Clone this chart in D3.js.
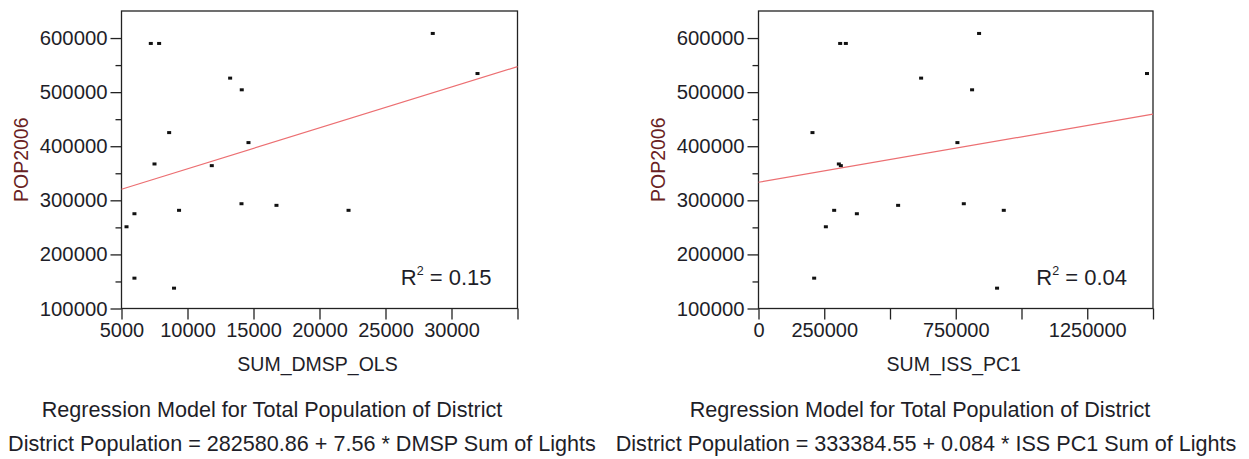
<!DOCTYPE html>
<html>
<head>
<meta charset="utf-8">
<script src="https://cdn.jsdelivr.net/npm/d3@7"></script>
<style>
  html, body { margin: 0; padding: 0; background: #fff; }
  svg text { font-family: "Liberation Sans", Arial, sans-serif; }
</style>
</head>
<body>
<svg id="chart" width="1249" height="459"></svg>
<script>
// ---- data ----
const pop2006   = [590000, 590000, 608500, 534400, 525900, 504300, 425200, 406700, 367200, 364100, 293700, 290700, 281500, 281500, 275200, 251100, 156100, 137600];
const sumDMSP   = [7220,   7850,   28580,  31970,  13230,  14110,  8610,   14620,  7500,   11840,  14090,  16740,  9360,   22200,  5980,   5380,   5980,   8980];
const sumISS    = [310500, 332100, 838700, 1477200, 618300, 812100, 205200, 756300, 305500, 313100, 780600, 530900, 287700, 932600, 374000, 256100, 211700, 907100];

const yTickValues = [100000, 200000, 300000, 400000, 500000, 600000];
const yMinorTicks = [150000, 250000, 350000, 450000, 550000];
const yTickLabels = ["100000", "200000", "300000", "400000", "500000", "600000"];

const xTicksDMSP = [5000, 10000, 15000, 20000, 25000, 30000, 35000];
const xLabelsDMSP = ["5000", "10000", "15000", "20000", "25000", "30000", ""];
const xTicksISS = [0, 250000, 500000, 750000, 1000000, 1250000, 1500000];
const xLabelsISS = ["0", "250000", "", "750000", "", "1250000", ""];

const intercepts = [282580.86, 333384.55];
const slopes = [7.56, 0.084];
const r2Labels = ["0.15", "0.04"];
const xTitles = ["SUM_DMSP_OLS", "SUM_ISS_PC1"];
const yTitle = "POP2006";
const modelTitle = "Regression Model for Total Population of District";
const equations = [
  "District Population = 282580.86 + 7.56 * DMSP Sum of Lights",
  "District Population = 333384.55 + 0.084 * ISS PC1 Sum of Lights"
];

// ---- layout ----
const svg = d3.select("#chart");
const panels = [
  { x0: 121.5, x1: 517.5, xDomain: [5000, 35000], xs: sumDMSP, ticks: xTicksDMSP, labels: xLabelsDMSP, yTitleX: 21, titleCx: 272, eqCx: 302 },
  { x0: 758.5, x1: 1153, xDomain: [0, 1500000], xs: sumISS, ticks: xTicksISS, labels: xLabelsISS, yTitleX: 658, titleCx: 920, eqCx: 926 }
];
const yTop = 11, yBot = 308.5;
const y = d3.scaleLinear().domain([100000, 650000]).range([yBot, yTop]);

const textColor = "#1e1e28";

panels.forEach((p, i) => {
  const x = d3.scaleLinear().domain(p.xDomain).range([p.x0, p.x1]);
  const g = svg.append("g");

  // minor y ticks
  const yMinor = d3.axisLeft(y).tickValues(yMinorTicks).tickSize(6).tickFormat("");
  g.append("g").attr("transform", `translate(${p.x0},0)`).call(yMinor)
    .call(a => a.select(".domain").remove());
  // major y ticks
  const yMajor = d3.axisLeft(y).tickValues(yTickValues).tickSize(11).tickPadding(3)
    .tickFormat((d, k) => yTickLabels[k]);
  g.append("g").attr("transform", `translate(${p.x0},0)`).call(yMajor)
    .call(a => a.select(".domain").remove())
    .call(a => a.selectAll("text").attr("font-size", 20.3).attr("fill", textColor)
      .attr("font-family", "Liberation Sans, Arial, sans-serif"));

  // x ticks
  const xAxis = d3.axisBottom(x).tickValues(p.ticks).tickSize(11).tickPadding(3)
    .tickFormat((d, k) => p.labels[k]);
  g.append("g").attr("transform", `translate(0,${yBot})`).call(xAxis)
    .call(a => a.select(".domain").remove())
    .call(a => a.selectAll("text").attr("font-size", 20).attr("fill", textColor)
      .attr("font-family", "Liberation Sans, Arial, sans-serif"));

  g.selectAll(".tick line").attr("stroke", "#222").attr("stroke-width", 1.3);

  // frame
  g.append("rect")
    .attr("x", p.x0).attr("y", yTop)
    .attr("width", p.x1 - p.x0).attr("height", yBot - yTop)
    .attr("fill", "none").attr("stroke", "#222").attr("stroke-width", 1.3);

  // regression line
  const [dx0, dx1] = p.xDomain;
  g.append("line")
    .attr("x1", x(dx0)).attr("y1", y(intercepts[i] + slopes[i] * dx0))
    .attr("x2", x(dx1)).attr("y2", y(intercepts[i] + slopes[i] * dx1))
    .attr("stroke", "#ec6f72").attr("stroke-width", 1.2);

  // points
  g.selectAll("rect.pt").data(pop2006).enter().append("rect")
    .attr("class", "pt")
    .attr("x", (d, k) => x(p.xs[k]) - 2)
    .attr("y", d => y(d) - 1.5)
    .attr("width", 4).attr("height", 3)
    .attr("fill", "#111");

  // R² label
  const r2 = g.append("text")
    .attr("x", p.x1 - 26).attr("y", 285)
    .attr("text-anchor", "end")
    .attr("font-size", 22).attr("fill", textColor);
  r2.append("tspan").text("R");
  r2.append("tspan").attr("font-size", 12.5).attr("dy", -10).text("2");
  r2.append("tspan").attr("dy", 10).text(" = " + r2Labels[i]);

  // x title
  g.append("text")
    .attr("x", (p.x0 + p.x1) / 2 - 2).attr("y", 371)
    .attr("text-anchor", "middle").attr("font-size", 19.5).attr("fill", textColor)
    .text(xTitles[i]);

  // y title
  g.append("text")
    .attr("transform", `translate(${p.yTitleX + 7},${(yTop + yBot) / 2}) rotate(-90)`)
    .attr("text-anchor", "middle").attr("font-size", 19.5).attr("fill", "#6a1f24")
    .text(yTitle);

  // model title and equation
  g.append("text")
    .attr("x", p.titleCx).attr("y", 417)
    .attr("text-anchor", "middle").attr("font-size", 21.6).attr("fill", textColor)
    .text(modelTitle);
  g.append("text")
    .attr("x", p.eqCx).attr("y", 451)
    .attr("text-anchor", "middle").attr("font-size", 21.6).attr("fill", textColor)
    .text(equations[i]);
});
</script>
</body>
</html>
